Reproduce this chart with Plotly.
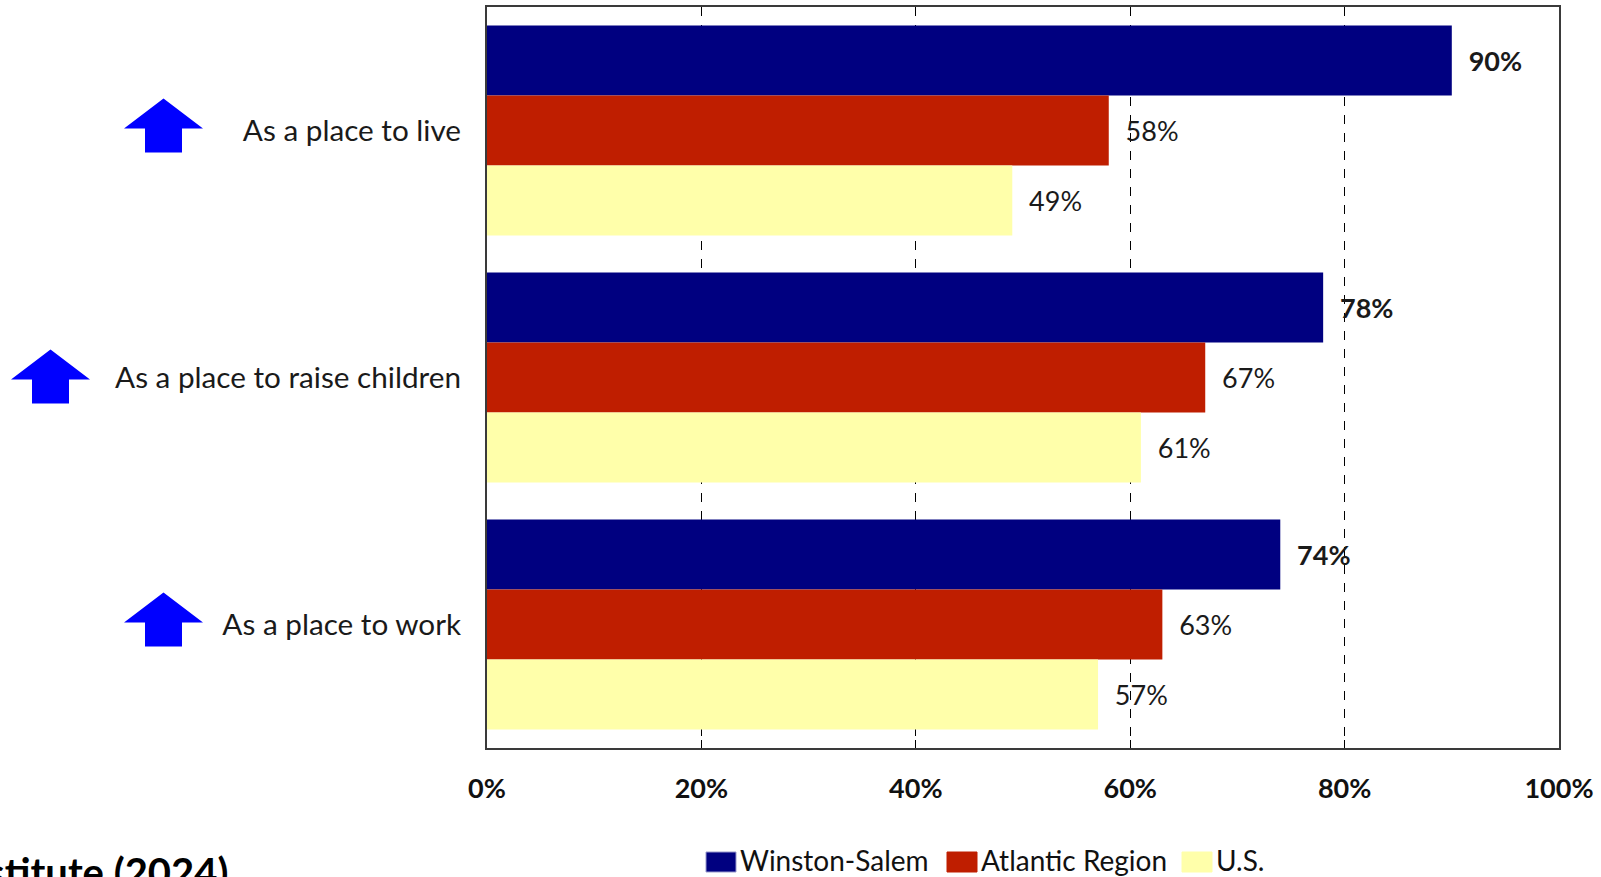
import plotly.graph_objects as go

categories = ["As a place to live", "As a place to raise children", "As a place to work"]
winston_salem = [90, 78, 74]
atlantic_region = [58, 67, 63]
us = [49, 61, 57]
x_ticks = [0, 20, 40, 60, 80, 100]
x_tick_labels = ["0%", "20%", "40%", "60%", "80%", "100%"]

series = [
    ("Winston-Salem", winston_salem, "#000080", True),
    ("Atlantic Region", atlantic_region, "#BF1E00", False),
    ("U.S.", us, "#FFFFAA", False),
]

FONT = "Lato"
PL, PR, PT, PB = 487, 42, 7, 129
W, H = 1601, 877
PW, PH = W - PL - PR, H - PT - PB

fig = go.Figure()
for name, vals, color, bold in series:
    txt = [("<b>%d%%</b>" % v) if bold else ("%d%%" % v) for v in vals]
    txt = ["\u00a0\u00a0" + t for t in txt]
    fig.add_trace(go.Bar(
        name=name, y=categories, x=vals, orientation="h",
        marker=dict(color=color, line=dict(width=0)),
        text=txt, textposition="outside", cliponaxis=False,
        textfont=dict(family=FONT, size=27, color="#1a1a1a"),
        showlegend=False,
    ))

# blue up arrows beside the category labels
arrow_right = [-284, -397, -284]
arrow_dy = [4, 0, 4]
for cat, xr, dy in zip(categories, arrow_right, arrow_dy):
    xl = xr - 79
    xm = xr - 39.5
    sl = xr - 58
    sr = xr - 21
    top = 28 + dy
    base = -2 + dy
    bot = -26 + dy
    path = (f"M {xm},{top} L {xr},{base} L {sr},{base} L {sr},{bot} "
            f"L {sl},{bot} L {sl},{base} L {xl},{base} Z")
    fig.add_shape(type="path", path=path, xref="paper", xanchor=0, xsizemode="pixel",
                  yref="y", yanchor=cat, ysizemode="pixel",
                  fillcolor="#0000FF", line=dict(width=0), layer="above")

# custom legend (large square swatches like the original)
legend_sq_x = [706, 947, 1182]
for (name, vals, color, bold), sx in zip(series, legend_sq_x):
    x0 = (sx - PL) / PW
    x1 = (sx + 30 - PL) / PW
    y0 = -(872 - (PT + PH)) / PH
    y1 = -(852 - (PT + PH)) / PH
    fig.add_shape(type="rect", xref="paper", yref="paper", x0=x0, x1=x1, y0=y0, y1=y1,
                  fillcolor=color, line=dict(width=1, color="#9999cc" if bold else color))
    fig.add_annotation(text=name, xref="paper", yref="paper", x=(sx + 32 - PL) / PW,
                       xanchor="left", y=-(860 - (PT + PH)) / PH, yanchor="middle",
                       showarrow=False, font=dict(family=FONT, size=28, color="#111111"))

fig.add_annotation(text="<b>Institute (2024)</b>", xref="paper", yref="paper",
                   x=-(PL - 230) / PW, xanchor="right", y=-(846 - (PT + PH)) / PH, yanchor="top",
                   showarrow=False, font=dict(family=FONT, size=40, color="#000000"))

fig.update_layout(
    width=W, height=H,
    margin=dict(l=PL, r=PR, t=PT, b=PB),
    paper_bgcolor="white", plot_bgcolor="white",
    barmode="group", bargap=0.15, bargroupgap=0,
    font=dict(family=FONT, color="#1a1a1a"),
    showlegend=False,
    xaxis=dict(range=[0, 100], tickvals=x_ticks, ticktext=x_tick_labels, automargin=False,
               tickfont=dict(family=FONT, size=27, color="#111111", weight="bold"),
               showgrid=True, gridcolor="#000000", griddash="dash", gridwidth=1,
               showline=True, linecolor="#3a3a3a", linewidth=2, mirror=True,
               ticks="inside", ticklen=8, tickcolor="#000000",
               ticklabelstandoff=16, zeroline=False),
    yaxis=dict(autorange="reversed", showline=True, linecolor="#3a3a3a", linewidth=2,
               mirror=True, ticks="", automargin=False,
               tickfont=dict(family=FONT, size=29.7, color="#1a1a1a"),
               ticklabelstandoff=18),
)
fig.write_html("out.html")
